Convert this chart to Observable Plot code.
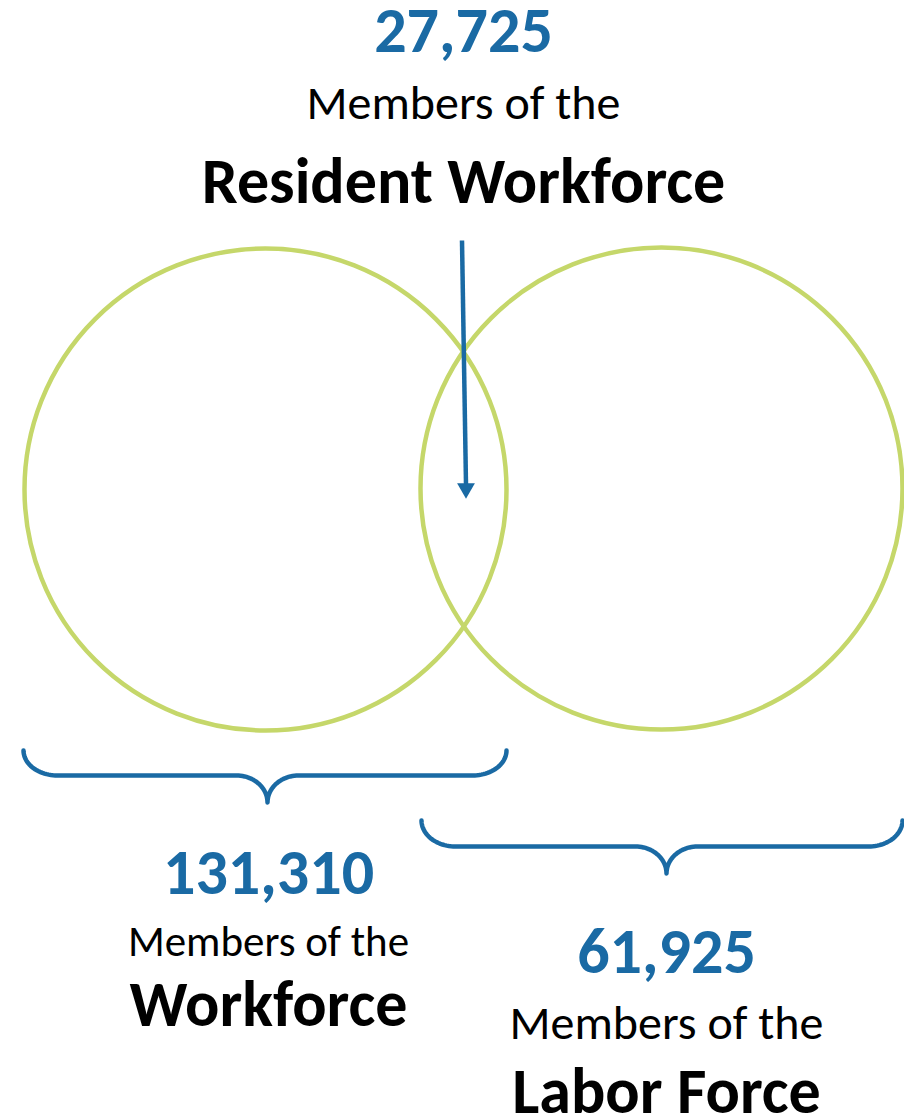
<!DOCTYPE html>
<html>
<head>
<meta charset="utf-8">
<script src="https://cdn.jsdelivr.net/npm/d3@7"></script>
<script src="https://cdn.jsdelivr.net/npm/@observablehq/plot@0.6"></script>
<style>
  html, body { margin: 0; padding: 0; background: #fff; }
  #chart svg { display: block; }
</style>
</head>
<body>
<div id="chart"></div>
<script>
// ---- Data ----
const circleNames = ["Workforce", "Labor Force"];
const circleCx = [265, 661];
const circleCy = [489, 488];
const circleR = [241, 241];

const braceNames = ["Workforce", "Labor Force"];
const braceX1 = [23, 421];
const braceX2 = [506, 902];
const braceTip = [267, 666];
const braceTop = [750, 820];
const braceMid = [775, 846];
const braceTipY = [802, 873];

const arrowFrom = {x: 461.5, y: 240};
const arrowTo = {x: 465.5, y: 484};

const labelText = ["27,725", "Members of the", "Resident Workforce",
                   "131,310", "Members of the", "Workforce",
                   "61,925", "Members of the", "Labor Force"];
const labelKind = ["number", "sub", "title", "number", "subSmall", "title", "number", "sub", "title"];
const labelX = [463, 463, 463, 268, 268, 268, 666, 666, 666];
const labelY = [51, 118, 202, 893, 955, 1025, 972, 1038, 1112];

// ---- Styles ----
const W = 904, H = 1115;
const GREEN = "#c5d76a";
const BLUE = "#1a6aa4";
const FONT = "Carlito, Calibri, Lato, sans-serif";
const kindStyle = {
  number: {size: 64, weight: 700, fill: BLUE},
  sub: {size: 48, weight: 400, fill: "#000"},
  subSmall: {size: 43, weight: 400, fill: "#000"},
  title: {size: 64, weight: 700, fill: "#000"}
};

const circles = circleNames.map((n, i) => ({name: n, x: circleCx[i], y: circleCy[i], r: circleR[i]}));

function arc(cx, cy, rx, ry, a0, a1, n = 24) {
  const pts = [];
  for (let k = 0; k <= n; k++) {
    const a = a0 + (a1 - a0) * k / n;
    pts.push([cx + rx * Math.cos(a), cy + ry * Math.sin(a)]);
  }
  return pts;
}
const bracePts = [];
braceNames.forEach((name, i) => {
  const x1 = braceX1[i], x2 = braceX2[i], xt = braceTip[i];
  const yT = braceTop[i], yM = braceMid[i], yP = braceTipY[i];
  const rEnd = 34, rTip = 31;
  const ryEnd = yM - yT, ryTip = yP - yM;
  const pts = [
    ...arc(x1 + rEnd, yT, rEnd, ryEnd, Math.PI, Math.PI / 2),
    ...arc(xt - rTip, yP, rTip, ryTip, -Math.PI / 2, 0),
    ...arc(xt + rTip, yP, rTip, ryTip, Math.PI, 1.5 * Math.PI),
    ...arc(x2 - rEnd, yT, rEnd, ryEnd, Math.PI / 2, 0)
  ];
  pts.forEach(([x, y]) => bracePts.push({name, x, y}));
});

const labels = labelText.map((t, i) => ({text: t, kind: labelKind[i], x: labelX[i], y: labelY[i]}));

const textMarks = Object.entries(kindStyle).map(([kind, s]) =>
  Plot.text(labels.filter(d => d.kind === kind), {
    x: "x", y: "y", text: "text",
    textAnchor: "middle", lineAnchor: "bottom",
    fontSize: s.size, fontWeight: s.weight, fill: s.fill,
    fontFamily: FONT
  })
);

const plot = Plot.plot({
  width: W, height: H,
  margin: 0,
  x: {domain: [0, W], range: [0, W], axis: null},
  y: {domain: [0, H], range: [0, H], axis: null},
  r: {type: "identity"},
  marks: [
    Plot.dot(circles, {x: "x", y: "y", r: "r", fill: "none", stroke: GREEN, strokeWidth: 4.5}),
    Plot.line(bracePts, {x: "x", y: "y", z: "name", stroke: BLUE, strokeWidth: 4.5, strokeLinejoin: "round"}),
    Plot.link([{...arrowFrom, x2: arrowTo.x, y2: arrowTo.y}], {x1: "x", y1: "y", x2: "x2", y2: "y2", stroke: BLUE, strokeWidth: 4.5}),
    Plot.dot([arrowTo], {x: "x", y: d => d.y + 4, symbol: "triangle2", rotate: 180, r: 8.5, fill: BLUE, stroke: "none"}),
    ...textMarks
  ]
});
document.getElementById("chart").append(plot);
</script>
</body>
</html>
